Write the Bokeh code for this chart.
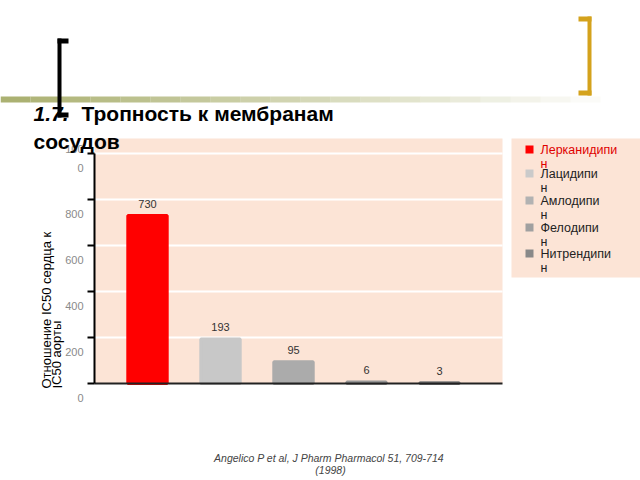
from bokeh.plotting import figure
from bokeh.models import (Range1d, FixedTicker, Label, LabelSet, ColumnDataSource, BoxAnnotation,
                          LinearAxis, Grid)
from bokeh.core.properties import value
from bokeh.embed import file_html
from bokeh.resources import INLINE

# ---------------- data ----------------
drugs = ["Лерканидипин", "Лацидипин", "Амлодипин", "Фелодипин", "Нитрендипин"]
ratios = [730, 193, 95, 6, 3]
bar_colors = ["#FF0000", "#C8C8C8", "#ABABAB", "#969696", "#7C7C7C"]
legend_colors = ["#FF0000", "#CACACA", "#B2B2B2", "#A0A0A0", "#898989"]
y_ticks = [0, 200, 400, 600, 800, 1000]
y_tick_labels = ["0", "200", "400", "600", "800", "1000"]
title_num = "1.7."
title_line1 = "Тропность к мембранам"
title_line2 = "сосудов"
y_title_lines = ["Отношение IC50 сердца к", "IC50 аорты"]
citation = ["Angelico P et al,  J Pharm Pharmacol 51, 709-714", "(1998)"]

# ---------------- layout (canvas px) ----------------
W, H = 640, 480
FL, FR, FT, FB = 94, 502, 138, 383       # plot area on the canvas
X0, DX = 147, 73                          # first bar centre, bar spacing (px)
PX_PER_UNIT = 0.23                        # px per ratio unit
FONT = "Liberation Sans"
PINK = "#FCE4D6"

def dx(X):   # canvas px -> category coordinate
    return (X - X0) / DX

def dy(Y):   # canvas px -> value coordinate
    return (FB - Y) / PX_PER_UNIT

def sx(X):
    return X

def sy(Y):
    return H - Y

p = figure(width=W, height=H, x_range=Range1d(dx(0), dx(W)), y_range=Range1d(dy(H), dy(0)),
           output_backend="svg", toolbar_location=None,
           x_axis_location=None, y_axis_location=None,
           min_border=0, min_border_left=0, min_border_right=0, min_border_top=0, min_border_bottom=0,
           background_fill_color="white", border_fill_color="white", outline_line_color=None)
p.grid.visible = False

# plot-area background
p.add_layout(BoxAnnotation(left=dx(FL), right=dx(FR), bottom=0, top=dy(FT),
                           fill_color=PINK, fill_alpha=1, line_color=None, level="image"))

# white grid lines (limited to the plot area)
grid_ticks = [t for t in y_ticks if t > 0]
g = Grid(dimension=1, ticker=FixedTicker(ticks=grid_ticks), grid_line_color="white", grid_line_width=2)
if "cross_bounds" in Grid.properties():
    g.cross_bounds = (dx(FL), dx(FR))
    p.add_layout(g)
else:
    p.segment(x0=[dx(FL)] * len(grid_ticks), x1=[dx(FR)] * len(grid_ticks), y0=grid_ticks, y1=grid_ticks,
              line_color="white", line_width=2, level="underlay")

# axes at fixed positions (labels drawn separately, shifted like the reference)
ya = LinearAxis(fixed_location=dx(FL), ticker=FixedTicker(ticks=y_ticks), bounds=(0, 1000),
                axis_line_color="black", axis_line_width=2,
                major_tick_line_color="black", major_tick_line_width=2,
                major_tick_out=7, major_tick_in=0, minor_tick_line_color=None,
                major_label_text_color=None, major_label_standoff=0)
p.add_layout(ya, "left")
xa = LinearAxis(fixed_location=0, ticker=FixedTicker(ticks=[]), bounds=(dx(FL), dx(FR)),
                axis_line_color="#222222", axis_line_width=2,
                major_tick_line_color=None, minor_tick_line_color=None,
                major_label_text_color=None, major_label_standoff=0)
p.add_layout(xa, "below")

# bars (thin outline in the fill colour keeps the tiny bars visible, as in the reference)
src = ColumnDataSource(dict(x=list(range(len(drugs))), top=ratios, color=bar_colors,
                            label=[str(v) for v in ratios]))
p.vbar(x="x", top="top", width=0.54, fill_color="color", line_color="color", line_width=3,
       source=src)
p.add_layout(LabelSet(x="x", y="top", text="label", source=src, y_offset=12,
                      text_align="center", text_baseline="middle", text_font=value(FONT),
                      text_font_size="11px", text_color="#333333"))

# tick labels (shifted down like the reference, "1000" wraps onto two lines)
tick_src = ColumnDataSource(dict(
    x=[dx(83)] * len(y_ticks), y=y_ticks,
    last=[l if len(l) <= 3 else l[3:] for l in y_tick_labels]))
p.add_layout(LabelSet(x="x", y="y", text="last", source=tick_src, y_offset=-14,
                      text_align="right", text_baseline="middle", text_font=value(FONT),
                      text_font_size="11px", text_color="#8A8A8A"))
wrapped = [(t, l[:3]) for t, l in zip(y_ticks, y_tick_labels) if len(l) > 3]
wrap_src = ColumnDataSource(dict(x=[dx(83)] * len(wrapped), y=[w[0] for w in wrapped],
                                 first=[w[1] for w in wrapped]))
p.add_layout(LabelSet(x="x", y="y", text="first", source=wrap_src, y_offset=5,
                      text_align="right", text_baseline="middle", text_font=value(FONT),
                      text_font_size="11px", text_color="#8A8A8A"))

# y title (rotated, two lines)
for txt, X in zip(y_title_lines, [46, 56.5]):
    p.add_layout(Label(x=sx(X), y=sy(388), x_units="screen", y_units="screen", text=txt,
                       angle=1.5708, text_align="left", text_baseline="middle",
                       text_font=FONT, text_font_size="13px", text_color="black"))

# slide decorations
band_steps = 20
for i in range(band_steps):
    x0 = i * 30
    p.add_layout(BoxAnnotation(left=sx(x0), right=sx(x0 + 30), bottom=sy(102), top=sy(96),
                               left_units="screen", right_units="screen",
                               bottom_units="screen", top_units="screen",
                               fill_color="#A7AD6A", fill_alpha=0.95 * (1 - i / band_steps),
                               line_color=None))

def rect(l, r, t, b, color):
    p.add_layout(BoxAnnotation(left=sx(l), right=sx(r), bottom=sy(b), top=sy(t),
                               left_units="screen", right_units="screen",
                               bottom_units="screen", top_units="screen",
                               fill_color=color, fill_alpha=1, line_color=None))

rect(57, 61, 38, 117, "black")
rect(57, 68, 38, 43, "black")
rect(57, 68, 112, 117, "black")
rect(587, 591, 16, 95, "#D4A21C")
rect(578, 591, 16, 21, "#D4A21C")
rect(578, 591, 90, 95, "#D4A21C")

# legend
rect(511, 640, 138, 277, PINK)
leg_y = [149, 173, 200, 227, 253]
for name, col, cy in zip(drugs, legend_colors, leg_y):
    rect(525, 533, cy - 4, cy + 4, col)
    tcol = "#E00000" if col == "#FF0000" else "#222222"
    p.add_layout(Label(x=sx(540), y=sy(cy), x_units="screen", y_units="screen", text=name[:-1],
                       text_align="left", text_baseline="middle", text_font=FONT,
                       text_font_size="12.5px", text_color=tcol))
    p.add_layout(Label(x=sx(540), y=sy(cy + 14), x_units="screen", y_units="screen", text=name[-1:],
                       text_align="left", text_baseline="middle", text_font=FONT,
                       text_font_size="12.5px", text_color=tcol))

# title
p.add_layout(Label(x=sx(33), y=sy(113), x_units="screen", y_units="screen", text=title_num,
                   text_align="left", text_baseline="middle", text_font=FONT,
                   text_font_size="21px", text_font_style="bold italic", text_color="black"))
p.add_layout(Label(x=sx(81), y=sy(113), x_units="screen", y_units="screen", text=title_line1,
                   text_align="left", text_baseline="middle", text_font=FONT,
                   text_font_size="21px", text_font_style="bold", text_color="black"))
p.add_layout(Label(x=sx(33), y=sy(141), x_units="screen", y_units="screen", text=title_line2,
                   text_align="left", text_baseline="middle", text_font=FONT,
                   text_font_size="21px", text_font_style="bold", text_color="black"))

# citation
for txt, Y in zip(citation, [457, 469]):
    p.add_layout(Label(x=sx(330), y=sy(Y), x_units="screen", y_units="screen", text=txt,
                       text_align="center", text_baseline="middle", text_font=FONT,
                       text_font_size="10.5px", text_font_style="italic", text_color="#444444"))

open("out.html", "w").write(file_html(p, INLINE))
